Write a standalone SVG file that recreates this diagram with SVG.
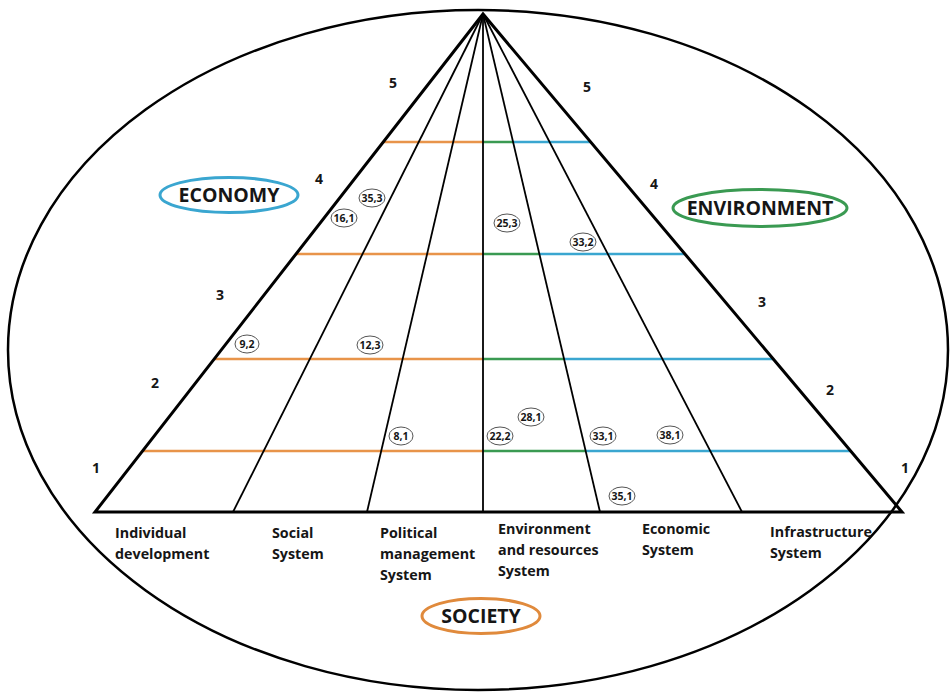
<svg xmlns="http://www.w3.org/2000/svg" width="952" height="698" viewBox="0 0 952 698">
<style>
.t{font-family:"Open Sans","Liberation Sans",sans-serif;font-weight:700;fill:#161616}
.lab{font-size:14.3px}
.num{font-size:14px}
.big{font-size:19.5px}
.sm{font-size:10.5px;text-anchor:middle}
.ov{fill:#fff;stroke:#555;stroke-width:1}
.outer{stroke:#000;stroke-width:3;fill:none;stroke-linecap:round}
.inner{stroke:#000;stroke-width:1.8;fill:none}
.o{stroke:#e8944a;stroke-width:2.5}
.g{stroke:#3a9a52;stroke-width:2.5}
.b{stroke:#3aa6d0;stroke-width:2.5}
</style>
<rect width="952" height="698" fill="#fff"/>
<ellipse cx="478" cy="350" rx="470" ry="340" fill="none" stroke="#000" stroke-width="2.5"/>
<g id="connectors">
<line class="o" x1="383.3" y1="142" x2="483" y2="142"/>
<line class="g" x1="483" y1="142" x2="513" y2="142"/>
<line class="b" x1="513" y1="142" x2="590.7" y2="142"/>
<line class="o" x1="296" y1="254" x2="483" y2="254"/>
<line class="g" x1="483" y1="254" x2="539.4" y2="254"/>
<line class="b" x1="539.4" y1="254" x2="684.9" y2="254"/>
<line class="o" x1="214.2" y1="359" x2="483" y2="359"/>
<line class="g" x1="483" y1="359" x2="564.1" y2="359"/>
<line class="b" x1="564.1" y1="359" x2="773.3" y2="359"/>
<line class="o" x1="142.5" y1="451" x2="483" y2="451"/>
<line class="g" x1="483" y1="451" x2="585.7" y2="451"/>
<line class="b" x1="585.7" y1="451" x2="850.7" y2="451"/>
<line class="inner" x1="483" y1="14" x2="233" y2="512"/>
<line class="inner" x1="483" y1="14" x2="367" y2="512"/>
<line class="inner" x1="483" y1="14" x2="483" y2="512"/>
<line class="inner" x1="483" y1="14" x2="600" y2="512"/>
<line class="inner" x1="483" y1="14" x2="742" y2="512"/>
<polygon class="outer" points="483,14 95,512 902,512" stroke-linejoin="miter"/>
</g>
<g id="levels-left" class="t num">
<text x="389" y="88">5</text>
<text x="315" y="184">4</text>
<text x="216" y="300">3</text>
<text x="151" y="388">2</text>
<text x="92" y="473">1</text>
</g>
<g id="levels-right" class="t num">
<text x="583" y="92">5</text>
<text x="650" y="189">4</text>
<text x="758" y="307">3</text>
<text x="826" y="395">2</text>
<text x="901" y="473">1</text>
</g>
<g id="economy">
<ellipse cx="229" cy="195" rx="69" ry="17.5" fill="none" stroke="#3aa6d0" stroke-width="3"/>
<text class="t big" x="229" y="202" text-anchor="middle">ECONOMY</text>
</g>
<g id="environment">
<ellipse cx="760" cy="208" rx="87" ry="18.5" fill="none" stroke="#3a9a52" stroke-width="3"/>
<text class="t big" x="760" y="215" text-anchor="middle">ENVIRONMENT</text>
</g>
<g id="society">
<ellipse cx="481" cy="616" rx="59" ry="17.5" fill="none" stroke="#e08a3c" stroke-width="3"/>
<text class="t big" x="481" y="623" text-anchor="middle">SOCIETY</text>
</g>
<g id="values">
<g id="v353"><ellipse class="ov" cx="372" cy="198" rx="13" ry="9"/><text class="t sm" x="372" y="201.5">35,3</text></g>
<g id="v161"><ellipse class="ov" cx="344" cy="218" rx="13" ry="9"/><text class="t sm" x="344" y="221.5">16,1</text></g>
<g id="v253"><ellipse class="ov" cx="507" cy="223" rx="13" ry="9"/><text class="t sm" x="507" y="226.5">25,3</text></g>
<g id="v332"><ellipse class="ov" cx="583" cy="242" rx="13" ry="9"/><text class="t sm" x="583" y="245.5">33,2</text></g>
<g id="v92"><ellipse class="ov" cx="247" cy="344" rx="12" ry="9"/><text class="t sm" x="247" y="347.5">9,2</text></g>
<g id="v123"><ellipse class="ov" cx="370" cy="345" rx="13" ry="9"/><text class="t sm" x="370" y="348.5">12,3</text></g>
<g id="v81"><ellipse class="ov" cx="401" cy="436" rx="12" ry="9"/><text class="t sm" x="401" y="439.5">8,1</text></g>
<g id="v222"><ellipse class="ov" cx="500" cy="436" rx="13" ry="9"/><text class="t sm" x="500" y="439.5">22,2</text></g>
<g id="v281"><ellipse class="ov" cx="531" cy="417" rx="13" ry="9"/><text class="t sm" x="531" y="420.5">28,1</text></g>
<g id="v331"><ellipse class="ov" cx="603" cy="436" rx="13" ry="9"/><text class="t sm" x="603" y="439.5">33,1</text></g>
<g id="v381"><ellipse class="ov" cx="670" cy="435" rx="13" ry="9"/><text class="t sm" x="670" y="438.5">38,1</text></g>
<g id="v351"><ellipse class="ov" cx="622" cy="496" rx="13" ry="9"/><text class="t sm" x="622" y="499.5">35,1</text></g>
</g>
<g id="col-labels" class="t lab">
<text x="115" y="538">Individual<tspan x="115" y="559">development</tspan></text>
<text x="272" y="538">Social<tspan x="272" y="559">System</tspan></text>
<text x="380" y="538">Political<tspan x="380" y="559">management</tspan><tspan x="380" y="580">System</tspan></text>
<text x="498" y="534">Environment<tspan x="498" y="555">and resources</tspan><tspan x="498" y="576">System</tspan></text>
<text x="642" y="534">Economic<tspan x="642" y="555">System</tspan></text>
<text x="770" y="537">Infrastructure<tspan x="770" y="558">System</tspan></text>
</g>
</svg>
